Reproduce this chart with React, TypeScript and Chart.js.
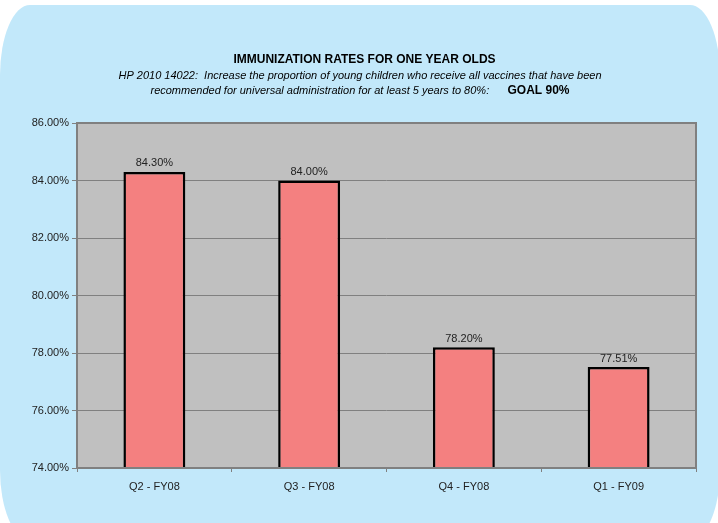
import React, { useEffect, useRef } from "react";
import { Chart, registerables } from "chart.js";

Chart.register(...registerables);

const categories = ["Q2 - FY08", "Q3 - FY08", "Q4 - FY08", "Q1 - FY09"];
const rates = [84.3, 84.0, 78.2, 77.51];
const yMin = 74;
const yMax = 86;
const yStep = 2;
const titleText = "IMMUNIZATION RATES FOR ONE YEAR OLDS";
const subtitleLine1 = "HP 2010 14022:  Increase the proportion of young children who receive all vaccines that have been";
const subtitleLine2 = "recommended for universal administration for at least 5 years to 80%:";
const goalText = "GOAL 90%";

const FONT = "Arial, 'Liberation Sans', sans-serif";

const plotBgPlugin = {
  id: "plotBg",
  beforeDraw(chart: any) {
    const { ctx, chartArea } = chart;
    ctx.save();
    ctx.fillStyle = "#C0C0C0";
    ctx.fillRect(chartArea.left, chartArea.top, chartArea.right - chartArea.left, chartArea.bottom - chartArea.top);
    ctx.restore();
  },
  afterDraw(chart: any) {
    const { ctx, chartArea } = chart;
    ctx.save();
    ctx.strokeStyle = "#808080";
    ctx.lineWidth = 2;
    ctx.strokeRect(chartArea.left, chartArea.top, chartArea.right - chartArea.left, chartArea.bottom - chartArea.top);
    ctx.restore();
  },
};

const labelsPlugin = {
  id: "barLabels",
  afterDatasetsDraw(chart: any) {
    const { ctx } = chart;
    const meta = chart.getDatasetMeta(0);
    ctx.save();
    ctx.font = `11px ${FONT}`;
    ctx.fillStyle = "#222222";
    ctx.textAlign = "center";
    ctx.textBaseline = "bottom";
    meta.data.forEach((bar: any, i: number) => {
      ctx.fillText(rates[i].toFixed(2) + "%", bar.x, bar.y - 3);
    });
    ctx.restore();
  },
};

const titlePlugin = {
  id: "titleText",
  afterDraw(chart: any) {
    const { ctx } = chart;
    ctx.save();
    ctx.fillStyle = "#000000";
    ctx.textBaseline = "middle";
    ctx.textAlign = "center";
    ctx.font = `bold 12px ${FONT}`;
    ctx.fillText(titleText, 364.5, 60);
    const cx = 360;
    ctx.font = `italic 11px ${FONT}`;
    ctx.fillText(subtitleLine1, cx, 75.5);
    const gap = "      ";
    ctx.font = `italic 11px ${FONT}`;
    const w1 = ctx.measureText(subtitleLine2 + gap).width;
    ctx.font = `bold 12px ${FONT}`;
    const w2 = ctx.measureText(goalText).width;
    let x = cx - (w1 + w2) / 2;
    ctx.textAlign = "left";
    ctx.font = `italic 11px ${FONT}`;
    ctx.fillText(subtitleLine2, x, 90.5);
    x += w1;
    ctx.font = `bold 12px ${FONT}`;
    ctx.fillText(goalText, x, 90.5);
    ctx.restore();
  },
};

export default function App() {
  const canvasRef = useRef<HTMLCanvasElement | null>(null);

  useEffect(() => {
    if (!canvasRef.current) return;
    const chart = new Chart(canvasRef.current, {
      type: "bar",
      data: {
        labels: categories,
        datasets: [
          {
            data: rates,
            backgroundColor: "#F48080",
            borderColor: "#000000",
            borderWidth: 2.5,
            borderSkipped: false,
            categoryPercentage: 1,
            barPercentage: 0.4,
          },
        ],
      },
      options: {
        animation: false,
        responsive: false,
        maintainAspectRatio: false,
        events: [],
        layout: { padding: { left: 0, top: 123, right: 22, bottom: 0 } },
        plugins: { legend: { display: false }, tooltip: { enabled: false }, title: { display: false } },
        scales: {
          x: {
            grid: { display: true, drawOnChartArea: false, drawTicks: true, tickLength: 4, color: "#808080", offset: true },
            border: { display: false },
            ticks: { color: "#222222", font: { family: FONT, size: 11 }, padding: 8 },
            afterFit(scale: any) {
              scale.height = 55;
            },
          },
          y: {
            min: yMin,
            max: yMax,
            grid: { color: "#808080", lineWidth: 1, tickLength: 5 },
            border: { display: false },
            ticks: {
              stepSize: yStep,
              color: "#222222",
              font: { family: FONT, size: 11 },
              padding: 3,
              callback: (v: any) => Number(v).toFixed(2) + "%",
            },
            afterFit(scale: any) {
              scale.width = 77;
            },
          },
        },
      },
      plugins: [plotBgPlugin, labelsPlugin, titlePlugin],
    });
    return () => chart.destroy();
  }, []);

  return (
    <div style={{ position: "fixed", left: 0, top: 0, width: 718, height: 523, background: "#ffffff", overflow: "hidden" }}>
      <div
        style={{
          position: "absolute",
          left: 0,
          top: 5,
          width: 720,
          height: 535,
          background: "#C2E8FA",
          borderRadius: "30px / 70px",
        }}
      />
      <canvas ref={canvasRef} width={718} height={523} style={{ position: "absolute", left: 0, top: 0 }} />
    </div>
  );
}
